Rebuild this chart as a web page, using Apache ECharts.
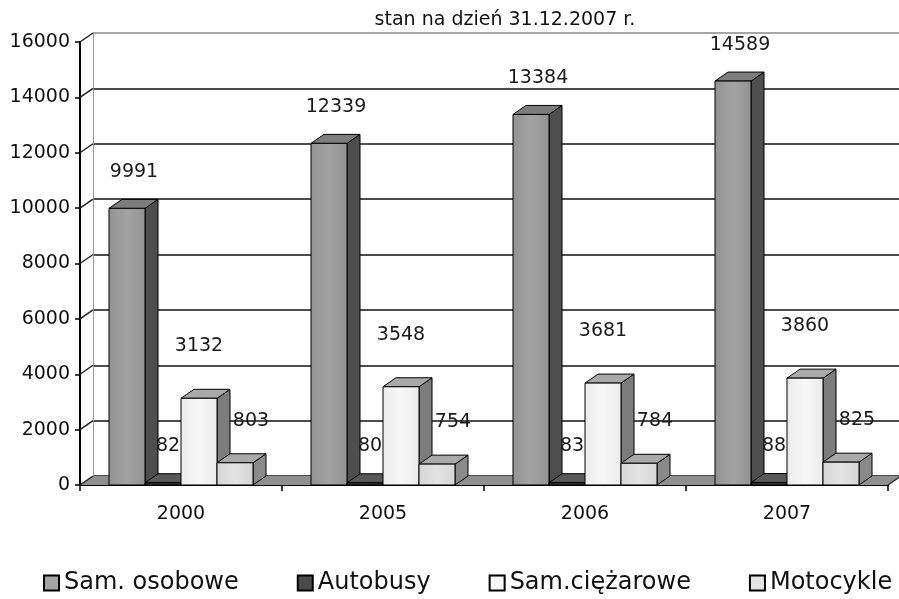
<!DOCTYPE html>
<html>
<head>
<meta charset="utf-8">
<script src="https://cdn.jsdelivr.net/npm/echarts@6/dist/echarts.min.js"></script>
<style>
  html, body { margin: 0; padding: 0; background: #ffffff; }
  #chart { width: 899px; height: 599px; }
</style>
</head>
<body>
<div id="chart"></div>
<script>
// Vehicle counts per year
const years = ['2000', '2005', '2006', '2007'];
const seriesNames = ['Sam. osobowe', 'Autobusy', 'Sam.ciężarowe', 'Motocykle'];
const osobowe = [9991, 12339, 13384, 14589];
const autobusy = [82, 80, 83, 88];
const ciezarowe = [3132, 3548, 3681, 3860];
const motocykle = [803, 754, 784, 825];
const yTicks = [0, 2000, 4000, 6000, 8000, 10000, 12000, 14000, 16000];

// 3D look: depth shift of the box sides
const DX = 13, DY = 9;
const BAR_FRAC = 36 / 202;
const FONT = 'DejaVu Sans';

const faces = [
  { front: '#a3a3a3', edge: '#929292', side: '#4e4e4e', top: '#7d7d7d', label: [7, -36] },
  { front: '#3c3c3c', edge: '#333333', side: '#2c2c2c', top: '#595959', label: [5, -37] },
  { front: '#f7f7f7', edge: '#ececec', side: '#7c7c7c', top: '#a9a9a9', label: [0, -52] },
  { front: '#e3e3e3', edge: '#d6d6d6', side: '#8a8a8a', top: '#a9a9a9', label: [16, -42] }
];

function boxRenderer(k) {
  const f = faces[k];
  return function (params, api) {
    const idx = api.value(0), val = api.value(1);
    const base = api.coord([idx, 0]);
    const top = api.coord([idx, val]);
    const w = api.size([1, 0])[0] * BAR_FRAC;
    const x0 = base[0] + (k - 2) * w;
    const x1 = x0 + w;
    const y0 = base[1], y1 = top[1];
    const line = { stroke: '#000', lineWidth: 1 };
    const frontFill = new echarts.graphic.LinearGradient(0, 0, 1, 0, [
      { offset: 0, color: f.edge }, { offset: 0.5, color: f.front }, { offset: 1, color: f.edge }
    ]);
    return {
      type: 'group',
      children: [
        { type: 'polygon', shape: { points: [[x1, y0], [x1 + DX, y0 - DY], [x1 + DX, y1 - DY], [x1, y1]] },
          style: Object.assign({ fill: f.side }, line) },
        { type: 'polygon', shape: { points: [[x0, y1], [x1, y1], [x1 + DX, y1 - DY], [x0 + DX, y1 - DY]] },
          style: Object.assign({ fill: f.top }, line) },
        { type: 'rect', shape: { x: x0, y: y1, width: w, height: y0 - y1 },
          style: Object.assign({ fill: frontFill }, line) },
        { type: 'text', x: (x0 + x1) / 2 + f.label[0], y: y1 + f.label[1], z2: 100,
          style: { text: String(val), fill: '#1a1a1a', font: '19px "' + FONT + '"',
                   align: 'center', verticalAlign: 'middle' } }
      ]
    };
  };
}

// Gray floor under the bars
function floorRenderer(params, api) {
  const cs = params.coordSys;
  const y0 = api.coord([0, 0])[1];
  const xl = cs.x, xr = cs.x + cs.width;
  return {
    type: 'group',
    children: [
      { type: 'polygon', shape: { points: [[xl, y0], [xr, y0], [xr + DX, y0 - DY], [xl + DX, y0 - DY]] },
        style: { fill: '#8f8f8f' } },
      { type: 'line', shape: { x1: xr, y1: y0, x2: xr + DX, y2: y0 - DY },
        style: { stroke: '#333', lineWidth: 1.5 } }
    ]
  };
}

// Slanted side-wall lines at each value tick
function wallTickRenderer(params, api) {
  const cs = params.coordSys;
  const y = api.coord([0, api.value(1)])[1];
  return { type: 'line', shape: { x1: cs.x, y1: y, x2: cs.x + DX, y2: y - DY },
           style: { stroke: '#222', lineWidth: 1.5 } };
}

const valueSets = [osobowe, autobusy, ciezarowe, motocykle];
const splitColors = yTicks.map((v, i) => i === yTicks.length - 1 ? '#8a8a8a' : '#111');

const chart = echarts.init(document.getElementById('chart'), null, { renderer: 'canvas' });
chart.setOption({
  animation: false,
  backgroundColor: '#ffffff',
  title: {
    text: 'stan na dzień 31.12.2007 r.',
    left: 500, top: 6, textAlign: 'center',
    textStyle: { fontFamily: FONT, fontSize: 19, fontWeight: 'normal', color: '#111' }
  },
  legend: {
    data: seriesNames,
    left: 43, top: 571,
    itemWidth: 15, itemHeight: 15, itemGap: 58,
    icon: 'rect',
    padding: 0,
    textStyle: { fontFamily: FONT, fontSize: 24, color: '#111' }
  },
  grid: [
    { left: 80, right: 11, top: 42, bottom: 114 },
    { left: 93, right: 0, top: 33, bottom: 123 }
  ],
  xAxis: [
    {
      type: 'category', gridIndex: 0, data: years,
      axisLine: { show: true, lineStyle: { color: '#000', width: 2 } },
      axisTick: { show: true, length: 6, lineStyle: { color: '#000', width: 1.5 } },
      axisLabel: { margin: 20, color: '#111', fontFamily: FONT, fontSize: 19 },
      splitLine: { show: false }
    },
    { type: 'category', gridIndex: 1, data: years, show: false }
  ],
  yAxis: [
    {
      type: 'value', gridIndex: 0, min: 0, max: 16000, interval: 2000,
      axisLine: { show: true, lineStyle: { color: '#000', width: 2 } },
      axisTick: { show: true, length: 5, lineStyle: { color: '#000', width: 1.5 } },
      axisLabel: { margin: 10, color: '#111', fontFamily: FONT, fontSize: 19,
                   formatter: v => String(v) },
      splitLine: { show: false }
    },
    {
      type: 'value', gridIndex: 1, min: 0, max: 16000, interval: 2000,
      axisLine: { show: true, lineStyle: { color: '#9a9a9a', width: 1 } },
      axisTick: { show: false },
      axisLabel: { show: false },
      splitLine: { show: true, lineStyle: { color: splitColors, width: 1.5 } }
    }
  ],
  series: [
    {
      type: 'custom', name: 'floor', xAxisIndex: 0, yAxisIndex: 0, silent: true,
      data: [[0, 0]], renderItem: floorRenderer
    },
    {
      type: 'custom', name: 'wall', xAxisIndex: 0, yAxisIndex: 0, silent: true,
      data: yTicks.map(v => [0, v]), renderItem: wallTickRenderer
    }
  ].concat(seriesNames.map((name, k) => ({
    type: 'custom', name: name, xAxisIndex: 0, yAxisIndex: 0,
    itemStyle: { color: k === 1 ? '#4a4a4a' : faces[k].front, borderColor: '#000', borderWidth: 1 },
    data: valueSets[k].map((v, i) => [i, v]),
    renderItem: boxRenderer(k)
  })))
});
</script>
</body>
</html>
